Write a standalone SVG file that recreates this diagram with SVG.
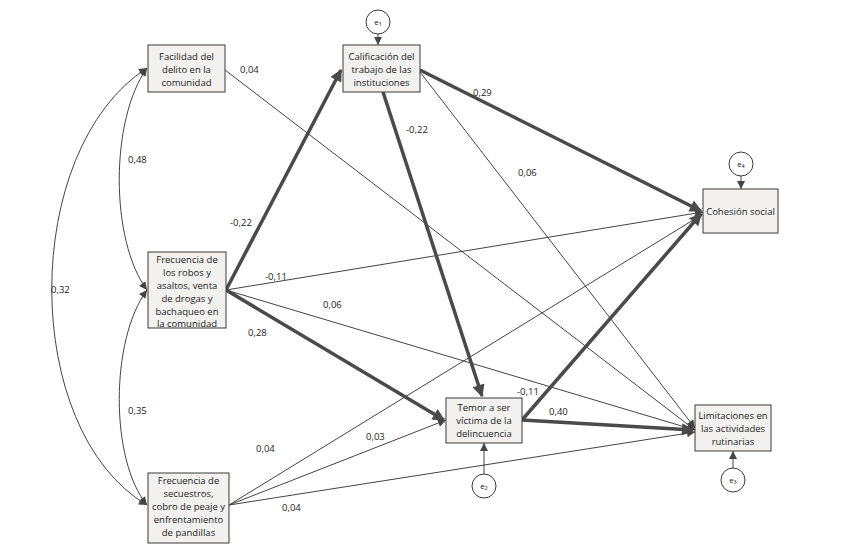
<svg xmlns="http://www.w3.org/2000/svg" width="855" height="550" viewBox="0 0 855 550">
<style>
.box{fill:#f3f1ef;stroke:#3a3a3a;stroke-width:1}
.c{fill:#fff;stroke:#3a3a3a;stroke-width:1}
text{font-family:"Open Sans","Liberation Sans",sans-serif;font-size:9.5px;fill:#222}
.t{text-anchor:middle}
.thin{stroke:#444;stroke-width:1;fill:none;marker-end:url(#a)}
.thick{stroke:#4a4a4a;stroke-width:3.5;fill:none;marker-end:url(#A)}
.cov{stroke:#444;stroke-width:1;fill:none;marker-end:url(#a);marker-start:url(#s)}
</style>
<defs>
<marker id="a" viewBox="0 0 10 10" refX="10" refY="5" markerWidth="10" markerHeight="8" orient="auto" markerUnits="userSpaceOnUse"><path d="M0,0L10,5L0,10z" fill="#444"/></marker>
<marker id="s" viewBox="0 0 10 10" refX="0" refY="5" markerWidth="10" markerHeight="8" orient="auto" markerUnits="userSpaceOnUse"><path d="M10,0L0,5L10,10z" fill="#444"/></marker>
<marker id="A" viewBox="0 0 10 10" refX="9" refY="5" markerWidth="4" markerHeight="3.5" orient="auto"><path d="M0,0L10,5L0,10z" fill="#4a4a4a"/></marker>
</defs>
<rect width="855" height="550" fill="#fff"/>
<g id="connectors">
<line class="thin" x1="225" y1="70" x2="695" y2="430"/>
<line class="thin" x1="226" y1="290" x2="703" y2="212"/>
<line class="thin" x1="226" y1="290" x2="695" y2="430"/>
<line class="thin" x1="420" y1="72" x2="695" y2="428"/>
<line class="thin" x1="229" y1="505" x2="703" y2="214"/>
<line class="thin" x1="229" y1="505" x2="446" y2="420"/>
<line class="thin" x1="229" y1="505" x2="695" y2="432"/>
<line class="thick" x1="226" y1="290" x2="341" y2="70"/>
<line class="thick" x1="226" y1="290" x2="444" y2="420"/>
<line class="thick" x1="420" y1="70" x2="701" y2="211"/>
<line class="thick" x1="383" y1="92" x2="482" y2="396"/>
<line class="thick" x1="522" y1="420" x2="701" y2="214"/>
<line class="thick" x1="522" y1="420" x2="693" y2="430"/>
<line class="thin" x1="378" y1="34" x2="378" y2="45"/>
<line class="thin" x1="741" y1="176" x2="741" y2="189"/>
<line class="thin" x1="733" y1="468" x2="733" y2="451"/>
<line class="thin" x1="484" y1="474" x2="484" y2="443"/>
<path class="cov" d="M147,290 C110,240 110,120 147,68"/>
<path class="cov" d="M147,505 C110,460 110,340 147,290"/>
<path class="cov" d="M147,505 C20,430 20,150 147,68"/>
</g>
<g id="labels">
<text x="240" y="73">0,04</text>
<text x="230" y="226">-0,22</text>
<text x="265" y="280">-0,11</text>
<text x="323" y="308">0,06</text>
<text x="248" y="336">0,28</text>
<text x="473" y="96">0,29</text>
<text x="406" y="133">-0,22</text>
<text x="518" y="176">0,06</text>
<text x="517" y="395">-0,11</text>
<text x="549" y="415">0,40</text>
<text x="256" y="452">0,04</text>
<text x="366" y="440">0,03</text>
<text x="282" y="511">0,04</text>
<text x="128" y="163">0,48</text>
<text x="128" y="414">0,35</text>
<text x="51" y="293">0,32</text>
</g>
<g id="n_facilidad"><rect class="box" x="148" y="45" width="77" height="47"/><text class="t" x="186.5" y="60">Facilidad del</text><text class="t" x="186.5" y="73">delito en la</text><text class="t" x="186.5" y="86">comunidad</text></g>
<g id="n_calificacion"><rect class="box" x="343" y="45" width="77" height="47"/><text class="t" x="381.5" y="60">Calificación del</text><text class="t" x="381.5" y="73">trabajo de las</text><text class="t" x="381.5" y="86">instituciones</text></g>
<g id="n_robos"><rect class="box" x="148" y="252" width="78" height="76"/><text class="t" x="187" y="263">Frecuencia de</text><text class="t" x="187" y="276">los robos y</text><text class="t" x="187" y="289">asaltos, venta</text><text class="t" x="187" y="302">de drogas y</text><text class="t" x="187" y="315">bachaqueo en</text><text class="t" x="187" y="327">la comunidad</text></g>
<g id="n_secuestros"><rect class="box" x="148" y="473" width="81" height="70"/><text class="t" x="188.5" y="484">Frecuencia de</text><text class="t" x="188.5" y="497">secuestros,</text><text class="t" x="188.5" y="510">cobro de peaje y</text><text class="t" x="188.5" y="523">enfrentamiento</text><text class="t" x="188.5" y="536">de pandillas</text></g>
<g id="n_temor"><rect class="box" x="446" y="398" width="76" height="45"/><text class="t" x="484" y="411">Temor a ser</text><text class="t" x="484" y="424">víctima de la</text><text class="t" x="484" y="437">delincuencia</text></g>
<g id="n_cohesion"><rect class="box" x="703" y="189" width="75" height="44"/><text class="t" x="740.5" y="215">Cohesión social</text></g>
<g id="n_limitaciones"><rect class="box" x="695" y="405" width="76" height="46"/><text class="t" x="733" y="419">Limitaciones en</text><text class="t" x="733" y="432">las actividades</text><text class="t" x="733" y="445">rutinarias</text></g>
<g id="e1"><circle class="c" cx="378" cy="22" r="12"/><text class="t" x="378" y="25" style="font-size:8px">e₁</text></g>
<g id="e4"><circle class="c" cx="741" cy="164" r="12"/><text class="t" x="741" y="167" style="font-size:8px">e₄</text></g>
<g id="e3"><circle class="c" cx="733" cy="480" r="12"/><text class="t" x="733" y="483" style="font-size:8px">e₃</text></g>
<g id="e2"><circle class="c" cx="484" cy="486" r="12"/><text class="t" x="484" y="489" style="font-size:8px">e₂</text></g>
</svg>
